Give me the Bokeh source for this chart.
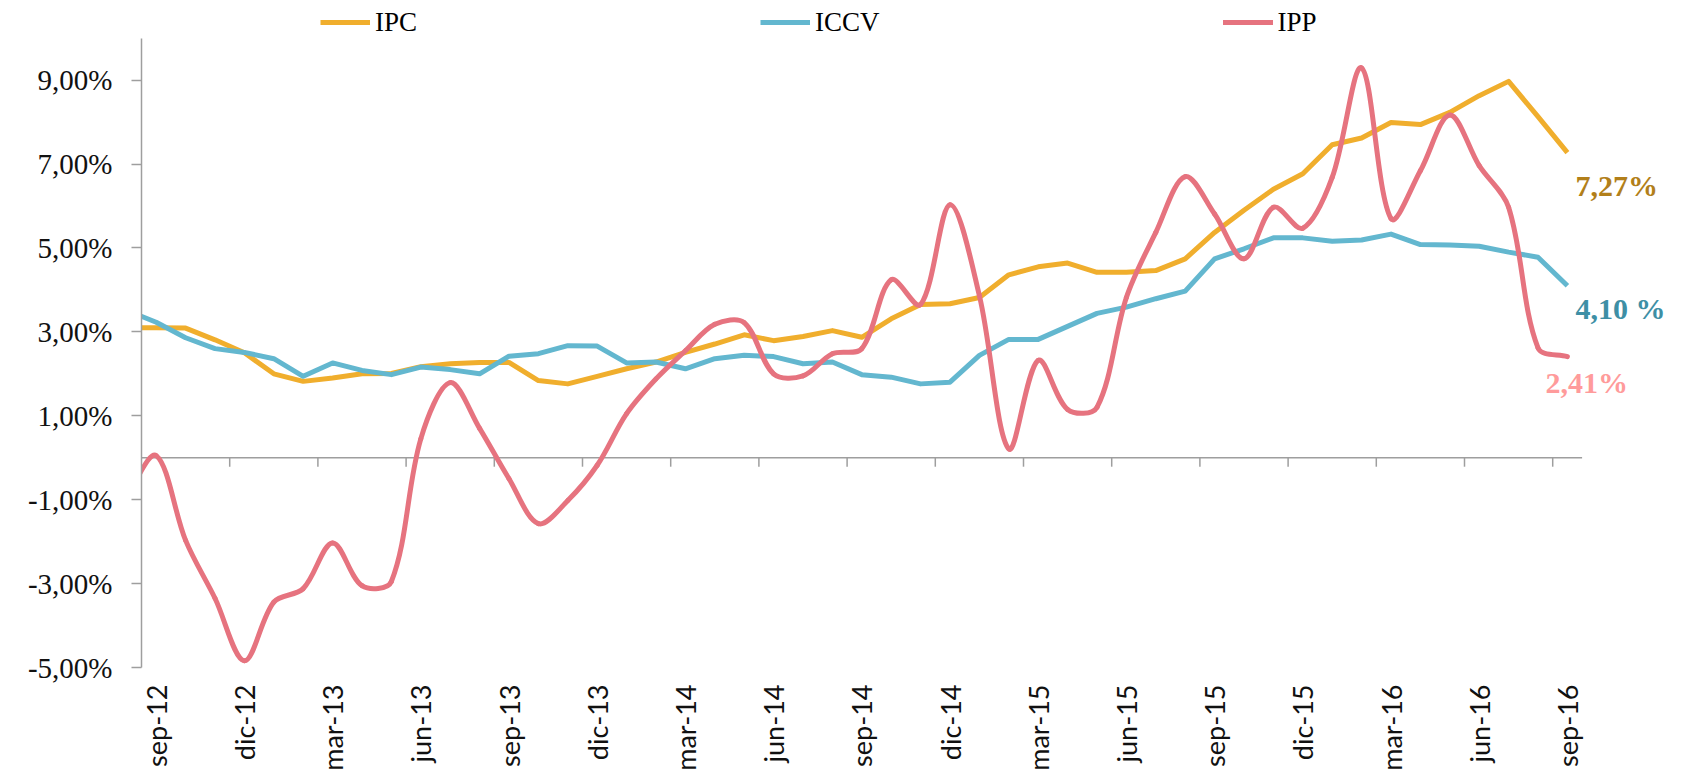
import math
from bokeh.plotting import figure
from bokeh.models import Range1d, FixedTicker, Legend, LegendItem
from bokeh.core.properties import value
from bokeh.embed import file_html
from bokeh.resources import INLINE

# ---------------- data ----------------
months = [
    "ago-12", "sep-12", "oct-12", "nov-12", "dic-12",
    "ene-13", "feb-13", "mar-13", "abr-13", "may-13", "jun-13",
    "jul-13", "ago-13", "sep-13", "oct-13", "nov-13", "dic-13",
    "ene-14", "feb-14", "mar-14", "abr-14", "may-14", "jun-14",
    "jul-14", "ago-14", "sep-14", "oct-14", "nov-14", "dic-14",
    "ene-15", "feb-15", "mar-15", "abr-15", "may-15", "jun-15",
    "jul-15", "ago-15", "sep-15", "oct-15", "nov-15", "dic-15",
    "ene-16", "feb-16", "mar-16", "abr-16", "may-16", "jun-16",
    "jul-16", "ago-16", "sep-16",
]

ipc = [3.10, 3.10, 3.09, 2.81, 2.50, 2.00, 1.82, 1.90, 2.00, 2.01, 2.17,
       2.24, 2.27, 2.27, 1.84, 1.76, 1.94, 2.12, 2.28, 2.51, 2.71, 2.93,
       2.79, 2.89, 3.03, 2.87, 3.31, 3.65, 3.67, 3.82, 4.36, 4.55, 4.64,
       4.42, 4.42, 4.46, 4.74, 5.37, 5.90, 6.40, 6.77, 7.46, 7.62, 7.99,
       7.94, 8.23, 8.63, 8.97, 8.13, 7.27]

iccv = [3.51, 3.23, 2.86, 2.60, 2.51, 2.36, 1.94, 2.26, 2.08, 1.98, 2.16,
        2.10, 2.00, 2.42, 2.48, 2.67, 2.66, 2.26, 2.28, 2.12, 2.36, 2.44,
        2.41, 2.24, 2.28, 1.98, 1.92, 1.76, 1.80, 2.44, 2.82, 2.82, 3.13,
        3.44, 3.59, 3.79, 3.97, 4.74, 4.98, 5.24, 5.24, 5.16, 5.19, 5.33,
        5.08, 5.07, 5.04, 4.90, 4.78, 4.10]

ipp = [-0.90, 0.05, -1.97, -3.35, -4.84, -3.44, -3.12, -2.03, -3.05, -2.95,
       0.45, 1.79, 0.70, -0.50, -1.57, -1.02, -0.18, 1.05, 1.88, 2.55, 3.18,
       3.22, 2.00, 1.95, 2.48, 2.60, 4.24, 3.65, 6.03, 3.86, 0.21, 2.32,
       1.15, 1.20, 3.82, 5.37, 6.70, 5.81, 4.74, 5.97, 5.47, 6.68, 9.29,
       5.70, 6.84, 8.17, 6.96, 5.97, 2.62, 2.41]

series_names = ["IPC", "ICCV", "IPP"]
end_labels = ["7,27%", "4,10 %", "2,41%"]
y_ticks = [-5, -3, -1, 1, 3, 5, 7, 9]

# ---------------- styles ----------------
C_IPC = "#F0AE2D"
C_ICCV = "#63B7CF"
C_IPP = "#E6737F"
LABEL_COLORS = ["#B27F1A", "#3E8FA5", "#FF9B9B"]
AXIS_GRAY = "#9E9E9E"

PX_X = 29.4    # pixels per month
PX_Y = 42.0    # pixels per percentage point

# category x: sep-12 at 0, first (ago-12) at -1
xs = [j - 1 for j in range(len(months))]


def smooth_beziers(xv, yv):
    """Excel-like smoothed line as cubic Bezier segments (chord-scaled Catmull-Rom)."""
    P = [(x * PX_X, y * PX_Y) for x, y in zip(xv, yv)]
    E = [P[0]] + P + [P[-1]]

    def dist(a, b):
        return math.hypot(b[0] - a[0], b[1] - a[1])

    out = {k: [] for k in ("x0", "y0", "x1", "y1", "cx0", "cy0", "cx1", "cy1")}
    for i in range(len(P) - 1):
        p0, p1, p2, p3 = E[i], E[i + 1], E[i + 2], E[i + 3]
        d01, d12, d23 = dist(p0, p1), dist(p1, p2), dist(p2, p3)
        f1 = d12 / (d01 + d12) / 3.0 if (d01 + d12) > 0 else 0
        f2 = d12 / (d12 + d23) / 3.0 if (d12 + d23) > 0 else 0
        c1 = (p1[0] + (p2[0] - p0[0]) * f1, p1[1] + (p2[1] - p0[1]) * f1)
        c2 = (p2[0] - (p3[0] - p1[0]) * f2, p2[1] - (p3[1] - p1[1]) * f2)
        out["x0"].append(p1[0] / PX_X); out["y0"].append(p1[1] / PX_Y)
        out["x1"].append(p2[0] / PX_X); out["y1"].append(p2[1] / PX_Y)
        out["cx0"].append(c1[0] / PX_X); out["cy0"].append(c1[1] / PX_Y)
        out["cx1"].append(c2[0] / PX_X); out["cy1"].append(c2[1] / PX_Y)
    return out


# ---------------- figure ----------------
W, H = 1691, 779
LEFT, BOTTOM = 141, 112
x_end = -0.5 + (W - LEFT) / PX_X
y_top = 10 + 37.7 / PX_Y

p = figure(width=W, height=H, output_backend="svg", toolbar_location=None,
           x_range=Range1d(-0.5, x_end), y_range=Range1d(-5, y_top),
           min_border_left=LEFT, min_border_right=0, min_border_top=0,
           min_border_bottom=BOTTOM, outline_line_color=None,
           background_fill_color="white", border_fill_color="white")
p.xgrid.visible = False
p.ygrid.visible = False

# y axis
p.yaxis.ticker = FixedTicker(ticks=y_ticks)
p.yaxis.major_label_overrides = {t: ("%.2f" % t).replace(".", ",") + "%" for t in y_ticks}
p.yaxis.bounds = (-5, 10)
p.yaxis.axis_line_color = AXIS_GRAY
p.yaxis.axis_line_width = 1.5
p.yaxis.major_tick_line_color = AXIS_GRAY
p.yaxis.major_tick_line_width = 1.5
p.yaxis.major_tick_out = 10
p.yaxis.major_tick_in = 0
p.yaxis.minor_tick_line_color = None
p.yaxis.major_label_standoff = 19
p.yaxis.major_label_text_font = "Liberation Serif"
p.yaxis.major_label_text_font_size = "29px"
p.yaxis.major_label_text_color = "#111111"

# x axis: labels only (the category line is drawn at y = 0)
label_pos = [x for x in xs if x >= 0 and x % 3 == 0]
p.xaxis.ticker = FixedTicker(ticks=label_pos)
p.xaxis.major_label_overrides = {x: months[x + 1] for x in label_pos}
p.xaxis.axis_line_color = None
p.xaxis.major_tick_line_color = None
p.xaxis.minor_tick_line_color = None
p.xaxis.major_tick_out = 0
p.xaxis.major_tick_in = 0
p.xaxis.major_label_orientation = math.pi / 2
p.xaxis.major_label_standoff = 17
p.xaxis.major_label_text_font = "Lato"
p.xaxis.major_label_text_font_size = "27px"
p.xaxis.major_label_text_color = "#111111"

# category axis line at 0 with tick marks between categories
n_cat = len([x for x in xs if x >= 0])
p.segment(x0=[-0.5], y0=[0], x1=[n_cat - 0.5], y1=[0],
          line_color=AXIS_GRAY, line_width=1.5)
tick_pos = [x - 0.5 for x in label_pos[1:]]  # boundaries at 2.5, 5.5, ...
p.segment(x0=tick_pos, y0=[0] * len(tick_pos), x1=tick_pos,
          y1=[-9 / PX_Y] * len(tick_pos), line_color=AXIS_GRAY, line_width=1.5)

# series
r_ipc = p.line(xs, ipc, line_color=C_IPC, line_width=5, line_join="round")
r_iccv = p.line(xs, iccv, line_color=C_ICCV, line_width=5, line_join="round")
bz = smooth_beziers(xs, ipp)
r_ipp = p.bezier(x0=bz["x0"], y0=bz["y0"], x1=bz["x1"], y1=bz["y1"],
                 cx0=bz["cx0"], cy0=bz["cy0"], cx1=bz["cx1"], cy1=bz["cy1"],
                 line_color=C_IPP, line_width=5, line_cap="round")

# end labels
last_x = xs[-1]
p.text(x=[last_x] * 3, y=[ipc[-1], iccv[-1], ipp[-1]], text=end_labels,
       x_offset=[8, 8, -22], y_offset=[33, 23, 26],
       text_color=LABEL_COLORS, text_font=value("Liberation Serif"),
       text_font_style="bold", text_font_size="30px",
       text_align="left", text_baseline="middle")

# legend
legend = Legend(items=[LegendItem(label=series_names[0], renderers=[r_ipc]),
                       LegendItem(label=series_names[1], renderers=[r_iccv]),
                       LegendItem(label=series_names[2], renderers=[r_ipp])],
                orientation="horizontal", location=(179, 629),
                spacing=343, glyph_width=50, glyph_height=32, label_height=32,
                label_standoff=5, padding=0, margin=0,
                border_line_color=None, background_fill_alpha=0,
                label_text_font="Liberation Serif", label_text_font_size="27px",
                label_text_color="#000000")
p.add_layout(legend)

open("out.html", "w").write(file_html(p, INLINE))
